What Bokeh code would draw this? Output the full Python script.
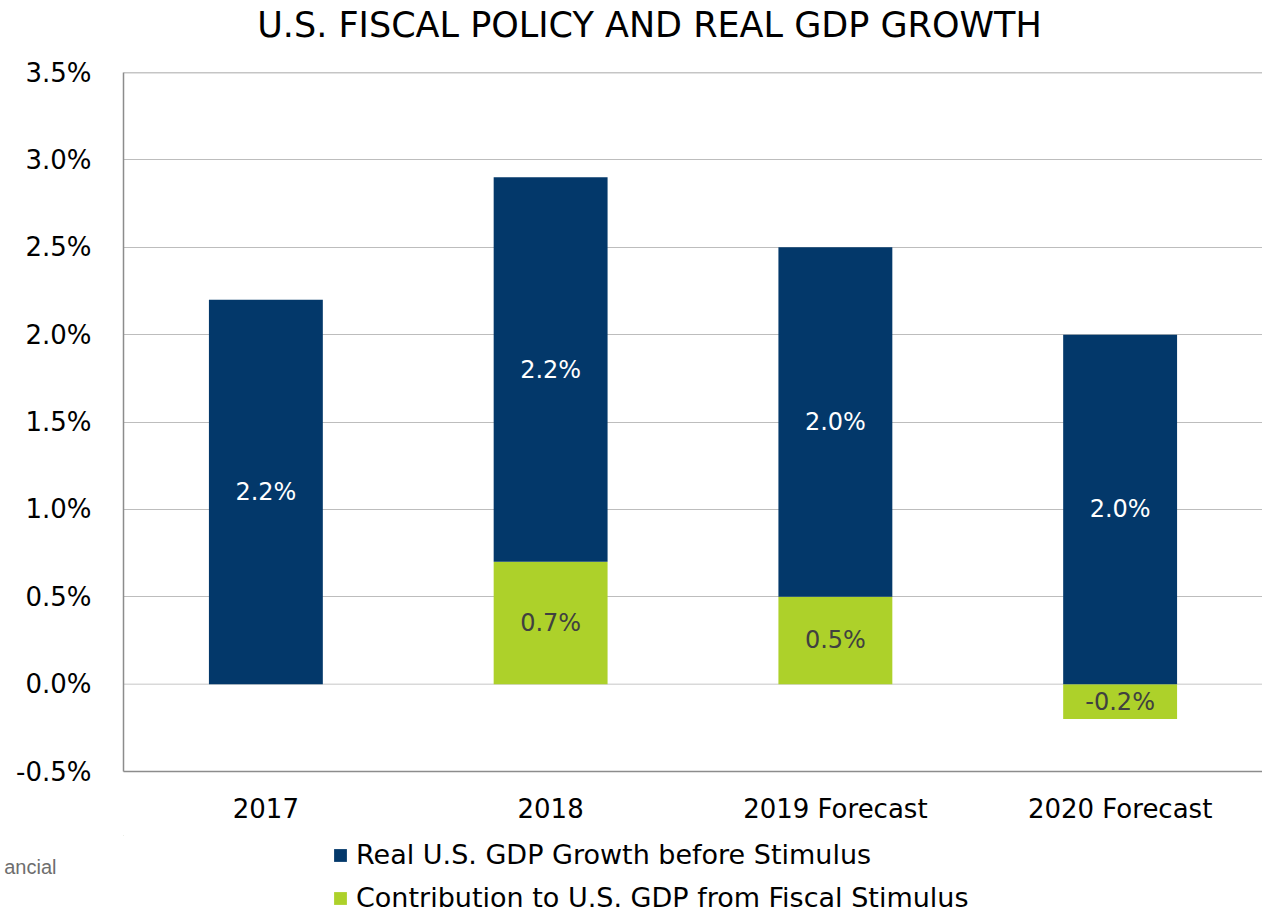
from bokeh.plotting import figure
from bokeh.layouts import column
from bokeh.models import (ColumnDataSource, FactorRange, Range1d, Legend, LegendItem, Label,
                          Span, PrintfTickFormatter, FixedTicker, LinearAxis)
from bokeh.core.properties import value
from bokeh.embed import file_html
from bokeh.resources import INLINE

# ---- data ----
categories = ["2017", "2018", "2019 Forecast", "2020 Forecast"]
base_growth = [2.2, 2.2, 2.0, 2.0]        # Real U.S. GDP Growth before Stimulus
stimulus = [0.0, 0.7, 0.5, -0.2]          # Contribution to U.S. GDP from Fiscal Stimulus
y_ticks = [-0.5, 0.0, 0.5, 1.0, 1.5, 2.0, 2.5, 3.0, 3.5]
title_text = "U.S. FISCAL POLICY AND REAL GDP GROWTH"
series_names = ["Real U.S. GDP Growth before Stimulus",
                "Contribution to U.S. GDP from Fiscal Stimulus"]
source_text = "ancial"

BLUE = "#03386A"
GREEN = "#ADD12A"
FONT = "DejaVu Sans"
W = 1262
LEFT = 123
H_TOP, H_MAIN, H_BOT = 56, 779, 78


def blank(height, y_flip=False):
    # frames of plots in a column are aligned, so the frame spans LEFT..W
    f = figure(width=W, height=height, output_backend="svg", toolbar_location=None,
               x_range=Range1d(LEFT, W),
               y_range=Range1d(height, 0) if y_flip else Range1d(0, height),
               x_axis_type=None, y_axis_type=None,
               min_border_left=LEFT, min_border_right=0,
               min_border_top=0, min_border_bottom=0)
    f.outline_line_color = None
    f.background_fill_color = "white"
    f.border_fill_color = "white"
    return f


# ---------- title strip ----------
top = blank(H_TOP)
top.add_layout(Label(x=649, y=32, text=title_text, text_font=FONT,
                     text_font_size="35px", text_font_style="normal", text_color="black",
                     text_align="center", text_baseline="alphabetic"))

# ---------- main chart ----------
green_bottom = [min(0.0, s) for s in stimulus]
green_top = [max(0.0, s) for s in stimulus]
blue_bottom = [max(0.0, s) for s in stimulus]
blue_top = [b + g for b, g in zip(base_growth, blue_bottom)]

src = ColumnDataSource(dict(
    cat=categories,
    gb=green_bottom, gt=green_top,
    bb=blue_bottom, bt=blue_top,
    blab=[f"{v:.1f}%" for v in base_growth],
    bmid=[(b + t) / 2 for b, t in zip(blue_bottom, blue_top)],
))
gidx = [i for i, s in enumerate(stimulus) if s != 0]
gsrc = ColumnDataSource(dict(
    cat=[categories[i] for i in gidx],
    glab=[f"{stimulus[i]:.1f}%" for i in gidx],
    gmid=[(green_bottom[i] + green_top[i]) / 2 for i in gidx],
))

p = figure(width=W, height=H_MAIN, output_backend="svg", toolbar_location=None,
           x_range=FactorRange(factors=categories, start=0.005, end=3.946),
           y_range=(-0.5, 3.5),
           min_border_left=LEFT, min_border_right=0, min_border_top=16,
           min_border_bottom=64)
p.outline_line_color = None
p.background_fill_color = "white"
p.border_fill_color = "white"

p.xgrid.grid_line_color = None
p.ygrid.ticker = FixedTicker(ticks=[t for t in y_ticks if t not in (0.0, -0.5, 3.5)])
p.ygrid.grid_line_color = "#BDBDBD"
p.ygrid.grid_line_width = 1.2
p.add_layout(Span(location=0.0, dimension="width", line_color="#D9D9D9", line_width=1.5,
                  level="underlay"))
p.add_layout(Span(location=3.5, dimension="width", line_color="#8C8C8C", line_width=1.5))

rg = p.vbar(x="cat", bottom="gb", top="gt", width=0.4, source=src,
            fill_color=GREEN, line_color=None)
rb = p.vbar(x="cat", bottom="bb", top="bt", width=0.4, source=src,
            fill_color=BLUE, line_color=None)

p.text(x="cat", y="bmid", text="blab", source=src, text_color="white",
       text_font=value(FONT), text_font_size="24px",
       text_align="center", text_baseline="middle")
p.text(x="cat", y="gmid", text="glab", source=gsrc, text_color="#404040",
       text_font=value(FONT), text_font_size="24px",
       text_align="center", text_baseline="middle")

p.yaxis.ticker = FixedTicker(ticks=y_ticks)
p.yaxis.formatter = PrintfTickFormatter(format="%.1f%%")
p.yaxis.major_label_text_font = FONT
p.yaxis.major_label_text_font_size = "26px"
p.yaxis.major_label_text_color = "black"
p.yaxis.major_tick_line_color = None
p.yaxis.minor_tick_line_color = None
p.yaxis.axis_line_color = "#8C8C8C"
p.yaxis.axis_line_width = 1.5
p.yaxis.major_label_standoff = 26

p.xaxis.major_label_text_font = FONT
p.xaxis.major_label_text_font_size = "26px"
p.xaxis.major_label_text_color = "black"
p.xaxis.major_tick_line_color = None
p.xaxis.axis_line_color = "#8C8C8C"
p.xaxis.axis_line_width = 1.5
p.xaxis.major_label_standoff = 16

# ---------- legend / source strip ----------
bot = blank(H_BOT, y_flip=True)
# swatch renderers for the legend (drawn outside the visible range)
sw_blue = bot.vbar(x=[-500], bottom=[-500], top=[-499], width=1,
                   fill_color=BLUE, line_color=None)
sw_green = bot.vbar(x=[-500], bottom=[-500], top=[-499], width=1,
                    fill_color=GREEN, line_color=None)
legend = Legend(items=[LegendItem(label=series_names[0], renderers=[sw_blue]),
                       LegendItem(label=series_names[1], renderers=[sw_green])],
                location=(332 - LEFT, 0), orientation="vertical",
                label_text_font=FONT, label_text_font_size="27px",
                label_text_color="black", glyph_width=16, glyph_height=16,
                label_height=28, label_standoff=8, spacing=12, padding=0, margin=0,
                border_line_color=None, background_fill_alpha=0)
bot.add_layout(legend)

# source fragment, cut off at the left edge, drawn in the left margin
src_axis = LinearAxis(ticker=FixedTicker(ticks=[31]),
                      major_label_overrides={31: source_text},
                      major_label_text_font="Liberation Sans",
                      major_label_text_font_size="20px",
                      major_label_text_color="#6E6E6E",
                      major_label_standoff=67,
                      major_tick_in=0, major_tick_out=0,
                      minor_tick_in=0, minor_tick_out=0,
                      axis_line_color=None, major_tick_line_color=None,
                      minor_tick_line_color=None)
bot.add_layout(src_axis, "left")

layout = column(top, p, bot, spacing=0)
open("out.html", "w").write(file_html(layout, INLINE))
